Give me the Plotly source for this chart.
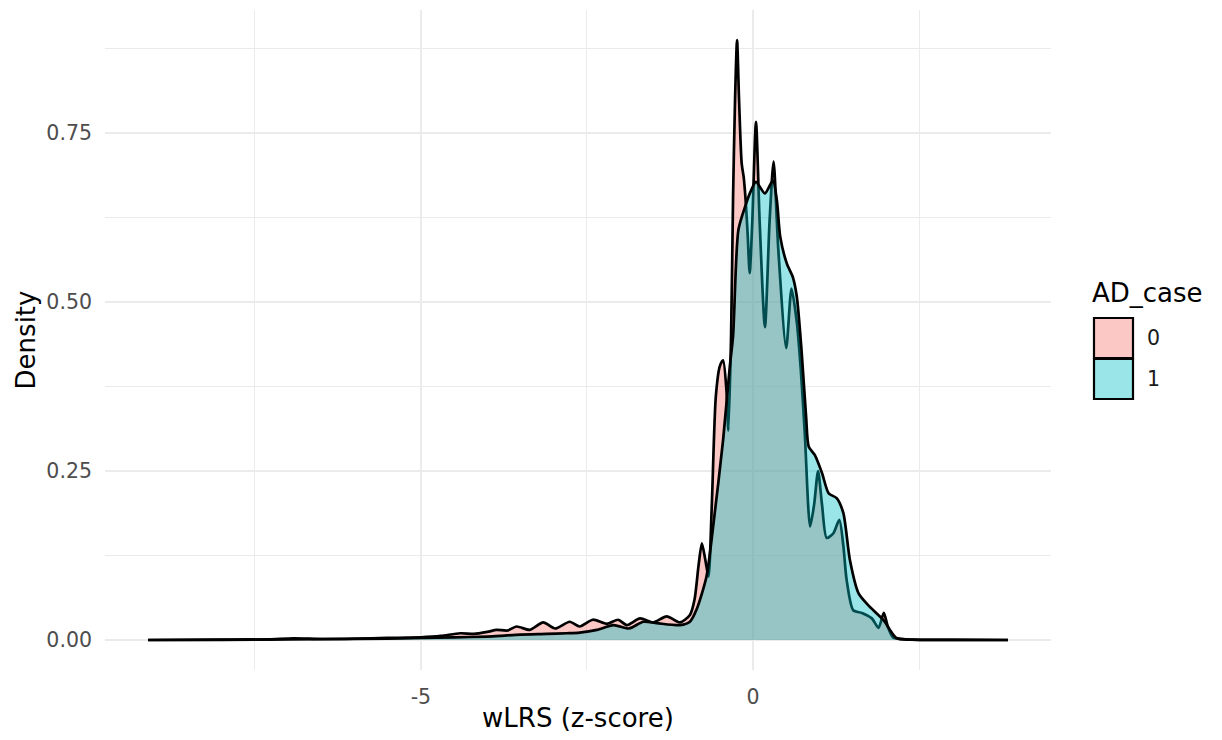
import plotly.graph_objects as go

# ---- data (density estimates) ----
groups = ["0", "1"]

x_case0 = [-9.11, -8.0, -7.3, -6.92, -6.5, -6.0, -5.5, -5.0, -4.7, -4.41, -4.2, -4.0, -3.86, -3.7,
           -3.56, -3.36, -3.16, -2.98, -2.76, -2.61, -2.41, -2.20, -2.03, -1.90, -1.70, -1.50,
           -1.30, -1.10, -0.95, -0.88, -0.82, -0.77, -0.72, -0.67, -0.62, -0.56, -0.50, -0.45,
           -0.40, -0.37, -0.33, -0.30, -0.27, -0.24, -0.21, -0.17, -0.14, -0.11, -0.08, -0.05,
           -0.01, 0.045, 0.10, 0.18, 0.25, 0.31, 0.38, 0.50, 0.58, 0.66, 0.72, 0.78, 0.86, 0.92,
           0.98, 1.04, 1.11, 1.21, 1.30, 1.36, 1.41, 1.51, 1.64, 1.79, 1.89, 1.97, 2.03, 2.11,
           2.3, 3.0, 3.84]
y_case0 = [0.0, 0.0005, 0.001, 0.0025, 0.0015, 0.002, 0.003, 0.004, 0.006, 0.010, 0.009, 0.012,
           0.015, 0.014, 0.020, 0.015, 0.026, 0.017, 0.027, 0.020, 0.030, 0.024, 0.030, 0.022,
           0.032, 0.026, 0.035, 0.026, 0.037, 0.060, 0.110, 0.143, 0.120, 0.094, 0.200, 0.360,
           0.405, 0.414, 0.370, 0.310, 0.450, 0.656, 0.800, 0.888, 0.800, 0.705, 0.685, 0.650,
           0.600, 0.543, 0.620, 0.767, 0.620, 0.463, 0.620, 0.708, 0.580, 0.432, 0.520, 0.470,
           0.400, 0.306, 0.168, 0.200, 0.250, 0.200, 0.151, 0.158, 0.178, 0.140, 0.089, 0.044,
           0.040, 0.032, 0.018, 0.040, 0.020, 0.004, 0.001, 0.0003, 0.0]

x_case1 = [-9.11, -8.0, -7.0, -6.0, -5.0, -4.5, -4.0, -3.81, -3.5, -3.11, -2.8, -2.61, -2.35,
           -2.10, -1.87, -1.65, -1.45, -1.10, -0.95, -0.85, -0.70, -0.60, -0.45, -0.35, -0.30,
           -0.22, -0.12, -0.03, 0.045, 0.18, 0.30, 0.36, 0.41, 0.51, 0.60, 0.66, 0.73, 0.80,
           0.84, 0.93, 1.04, 1.14, 1.26, 1.36, 1.46, 1.59, 1.76, 1.96, 2.16, 2.4, 3.0, 3.84]
y_case1 = [0.0, 0.0003, 0.001, 0.0015, 0.003, 0.004, 0.005, 0.006, 0.008, 0.009, 0.010, 0.011,
           0.015, 0.022, 0.017, 0.027, 0.025, 0.022, 0.027, 0.045, 0.094, 0.168, 0.296, 0.404,
           0.450, 0.607, 0.641, 0.665, 0.678, 0.661, 0.680, 0.650, 0.597, 0.557, 0.537, 0.508,
           0.430, 0.330, 0.286, 0.274, 0.247, 0.217, 0.210, 0.188, 0.118, 0.069, 0.049, 0.030,
           0.003, 0.0005, 0.0002, 0.0]

fill_colors = ["rgba(248,118,109,0.4)", "rgba(0,191,196,0.4)"]
x_ticks = [-5, 0]
y_ticks = [0.0, 0.25, 0.50, 0.75]
y_tick_text = ["0.00", "0.25", "0.50", "0.75"]

FONT = "DejaVu Sans"
OFF = 8  # default page body margin
W, H = 1222 - OFF, 740 - OFF
PW, PH = 946, 660
L, T = 105 - OFF, 10 - OFF
R, B = W - L - PW, H - T - PH


def px_to_paper(px, py):
    # px, py are screen pixels of the 1222x740 window
    return (px - OFF - L) / PW, (H - B - (py - OFF)) / PH


fig = go.Figure()
for xs, ys, fc, name in [(x_case0, y_case0, fill_colors[0], groups[0]),
                         (x_case1, y_case1, fill_colors[1], groups[1])]:
    fig.add_trace(go.Scatter(
        x=xs, y=ys, mode="lines", name=name, fill="tozeroy", fillcolor=fc,
        line=dict(color="black", width=2.7, shape="spline", smoothing=0.7),
        showlegend=False, hoverinfo="skip"))

# custom ggplot-like legend
shapes = []
annotations = []
tx, ty = px_to_paper(1090, 293)
annotations.append(dict(text="AD_case", x=tx, y=ty, xref="paper", yref="paper",
                        xanchor="left", yanchor="middle", showarrow=False,
                        font=dict(family=FONT, size=26, color="black")))
key_boxes = [(318, 358), (359, 399)]
for (top, bot), fc, lab in zip(key_boxes, fill_colors, groups):
    x0, y0 = px_to_paper(1094, bot)
    x1, y1 = px_to_paper(1133, top)
    shapes.append(dict(type="rect", xref="paper", yref="paper", x0=x0, x1=x1, y0=y0, y1=y1,
                       fillcolor=fc, line=dict(color="black", width=2.2)))
    lx, ly = px_to_paper(1145, (top + bot) / 2)
    annotations.append(dict(text=lab, x=lx, y=ly, xref="paper", yref="paper",
                            xanchor="left", yanchor="middle", showarrow=False,
                            font=dict(family=FONT, size=20.5, color="#1a1a1a")))

fig.update_layout(
    width=W, height=H,
    margin=dict(l=L, r=R, t=T, b=B, pad=0, autoexpand=False),
    paper_bgcolor="white", plot_bgcolor="white",
    font=dict(family=FONT, color="#4D4D4D"),
    shapes=shapes, annotations=annotations,
    xaxis=dict(range=[-9.7575, 4.4875], tickvals=x_ticks, ticktext=["-5", "0"],
               automargin=False,
               showgrid=True, gridcolor="#EBEBEB", gridwidth=2,
               minor=dict(dtick=2.5, tick0=0, showgrid=True, gridcolor="#EBEBEB", gridwidth=1.3),
               zeroline=False, showline=False, ticks="",
               tickfont=dict(family=FONT, size=20.5, color="#4D4D4D"),
               ticklabelstandoff=12,
               title=dict(text="wLRS (z-score)", standoff=1,
                          font=dict(family=FONT, size=26, color="black"))),
    yaxis=dict(range=[-0.0444, 0.9324], tickvals=y_ticks, ticktext=y_tick_text,
               automargin=False,
               showgrid=True, gridcolor="#EBEBEB", gridwidth=2,
               minor=dict(dtick=0.125, tick0=0, showgrid=True, gridcolor="#EBEBEB", gridwidth=1.3),
               zeroline=False, showline=False, ticks="",
               tickfont=dict(family=FONT, size=20.5, color="#4D4D4D"),
               ticklabelstandoff=12,
               title=dict(text="Density", standoff=3,
                          font=dict(family=FONT, size=26, color="black"))),
)

fig.write_html("out.html")
